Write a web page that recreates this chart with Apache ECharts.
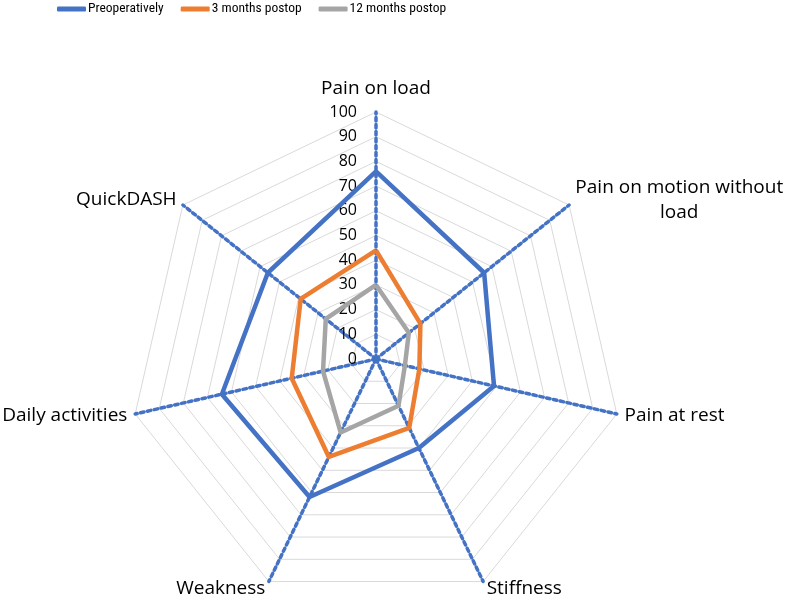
<!DOCTYPE html>
<html>
<head>
<meta charset="utf-8">
<script src="https://cdn.jsdelivr.net/npm/echarts@6/dist/echarts.min.js"></script>
<style>
html,body{margin:0;padding:0;background:#fff;}
#chart{width:787px;height:596px;}
</style>
</head>
<body>
<div id="chart"></div>
<script>
const categories = ["Pain on load", "Pain on motion without load", "Pain at rest", "Stiffness", "Weakness", "Daily activities", "QuickDASH"];
const preoperatively = [76, 56, 49, 40, 62, 64, 56];
const months3 = [44, 23, 18, 31, 44, 35, 39];
const months12 = [30, 17, 12, 21, 33, 22, 26];
const seriesNames = ["Preoperatively", "3 months postop", "12 months postop"];
const ringTicks = [0, 10, 20, 30, 40, 50, 60, 70, 80, 90, 100];

// ECharts radar runs counter-clockwise; reorder so the chart reads clockwise
const order = [0, 6, 5, 4, 3, 2, 1];
const reorder = arr => order.map(i => arr[i]);

const FONT = 'Open Sans';
const LEGEND_FONT = "'Roboto Condensed', 'DejaVu Sans Condensed', Lato";
const chart = echarts.init(document.getElementById('chart'));
chart.setOption({
  animation: false,
  textStyle: {fontFamily: FONT},
  color: ['#4472c4', '#ed7d31', '#a5a5a5'],
  legend: {
    left: 52, top: -3,
    icon: 'roundRect',
    itemWidth: 29, itemHeight: 5, itemGap: 17,
    textStyle: {fontSize: 13.5, color: '#000', fontFamily: LEGEND_FONT, padding: [0, 0, 0, -3]},
    data: seriesNames
  },
  radar: {
    center: [376, 359],
    radius: 247,
    startAngle: 90,
    splitNumber: 10,
    shape: 'polygon',
    nameGap: 8,
    axisName: {
      color: '#000',
      fontSize: 19,
      fontFamily: FONT,
      formatter: function (name) {
        if (name === 'Pain on motion without load') {
          return '{c|Pain on motion without}\n{c|load}';
        }
        if (name === 'Pain on load') return '{t|' + name + '}';
        return name;
      },
      rich: {
        c: {align: 'center', fontSize: 19, color: '#000', fontFamily: FONT, lineHeight: 25},
        t: {fontSize: 19, color: '#000', fontFamily: FONT, padding: [0, 0, 6, 0]}
      }
    },
    splitArea: {show: false},
    splitLine: {lineStyle: {color: '#d9d9d9', width: 1}},
    axisLine: {lineStyle: {color: '#4472c4', width: 3.5, type: 'dotted'}},
    axisLabel: {show: false},
    indicator: reorder(categories).map(n => ({name: n, min: 0, max: 100}))
  },
  polar: {center: [376, 359], radius: 247},
  angleAxis: {show: false, startAngle: 90, min: 0, max: 360},
  radiusAxis: {
    min: 0, max: 100, interval: 10,
    axisLine: {show: false}, axisTick: {show: false}, splitLine: {show: false},
    axisLabel: {show: true, fontSize: 16, color: '#000', fontFamily: FONT, margin: 19,
      formatter: v => ringTicks.indexOf(v) >= 0 ? String(v) : ''}
  },
  series: [{
    type: 'radar',
    symbol: 'none',
    data: [
      {name: seriesNames[0], value: reorder(preoperatively), lineStyle: {width: 4.5, color: '#4472c4'}, itemStyle: {color: '#4472c4'}},
      {name: seriesNames[1], value: reorder(months3), lineStyle: {width: 4.5, color: '#ed7d31'}, itemStyle: {color: '#ed7d31'}},
      {name: seriesNames[2], value: reorder(months12), lineStyle: {width: 4.5, color: '#a5a5a5'}, itemStyle: {color: '#a5a5a5'}}
    ]
  }]
});
</script>
</body>
</html>
